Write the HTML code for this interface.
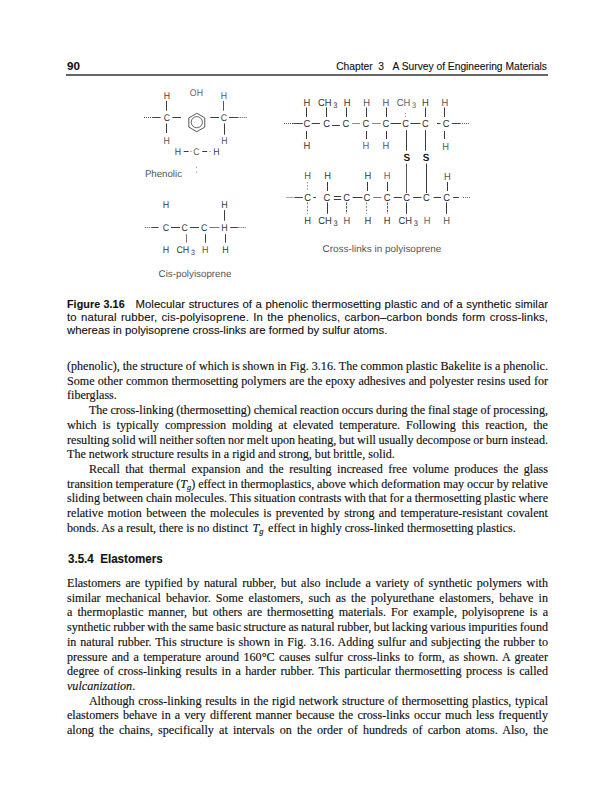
<!DOCTYPE html>
<html><head><meta charset="utf-8">
<style>
html,body{margin:0;padding:0;background:#fff;}
body{width:613px;height:800px;position:relative;overflow:hidden;}
.ln{position:absolute;white-space:nowrap;}
.bd{font-family:"Liberation Serif",serif;color:#111;-webkit-text-stroke:0.15px #111;}
.cp{font-family:"Liberation Sans",sans-serif;color:#111;-webkit-text-stroke:0.12px #111;}
sub{font-size:70%;vertical-align:-0.28em;line-height:0;font-style:italic;}
svg text{font-family:"Liberation Sans",sans-serif;text-rendering:geometricPrecision;}
</style></head><body>

<div class="ln cp" style="left:67px;top:58.7px;font-size:11.6px;font-weight:bold;">90</div>
<div class="ln cp" style="right:66px;top:60.5px;font-size:10.25px;">Chapter&nbsp;&nbsp;3&nbsp;&nbsp;&nbsp;A Survey of Engineering Materials</div>
<div style="position:absolute;left:66px;top:74px;width:482px;height:2px;background:#666;"></div>
<div class="ln cp" style="left:67.5px;top:551.8px;font-size:12.6px;line-height:14px;font-weight:bold;transform:scaleX(0.92);transform-origin:0 0;">3.5.4&nbsp;&nbsp;Elastomers</div>

<div class="ln cp" id="l0" style="left:67.00px;top:298.00px;font-size:11.35px;line-height:12.9px;letter-spacing:0.056px;word-spacing:0.289px;"><b style="font-size:10.75px">Figure 3.16</b><span style="display:inline-block;width:10.8px"></span>Molecular structures of a phenolic thermosetting plastic and of a synthetic similar</div>
<div class="ln cp" id="l1" style="left:67.00px;top:310.90px;font-size:11.35px;line-height:12.9px;letter-spacing:0.149px;word-spacing:0.904px;">to natural rubber, cis-polyisoprene. In the phenolics, carbon–carbon bonds form cross-links,</div>
<div class="ln cp" id="l2" style="left:67.00px;top:323.80px;font-size:11.35px;line-height:12.9px;">whereas in polyisoprene cross-links are formed by sulfur atoms.</div>
<div class="ln bd" id="l3" style="left:67.00px;top:359.00px;font-size:12.1px;line-height:14.7px;word-spacing:-0.006px;">(phenolic), the structure of which is shown in Fig. 3.16. The common plastic Bakelite is a phenolic.</div>
<div class="ln bd" id="l4" style="left:67.00px;top:373.70px;font-size:12.1px;line-height:14.7px;word-spacing:0.237px;">Some other common thermosetting polymers are the epoxy adhesives and polyester resins used for</div>
<div class="ln bd" id="l5" style="left:67.00px;top:388.40px;font-size:12.1px;line-height:14.7px;">fiberglass.</div>
<div class="ln bd" id="l6" style="left:88.90px;top:403.10px;font-size:12.1px;line-height:14.7px;word-spacing:-0.273px;">The cross-linking (thermosetting) chemical reaction occurs during the final stage of processing,</div>
<div class="ln bd" id="l7" style="left:67.00px;top:417.80px;font-size:12.1px;line-height:14.7px;word-spacing:2.966px;">which is typically compression molding at elevated temperature. Following this reaction, the</div>
<div class="ln bd" id="l8" style="left:67.00px;top:432.50px;font-size:12.1px;line-height:14.7px;word-spacing:-0.380px;">resulting solid will neither soften nor melt upon heating, but will usually decompose or burn instead.</div>
<div class="ln bd" id="l9" style="left:67.00px;top:447.20px;font-size:12.1px;line-height:14.7px;">The network structure results in a rigid and strong, but brittle, solid.</div>
<div class="ln bd" id="l10" style="left:88.90px;top:461.90px;font-size:12.1px;line-height:14.7px;word-spacing:2.493px;">Recall that thermal expansion and the resulting increased free volume produces the glass</div>
<div class="ln bd" id="l11" style="left:67.00px;top:476.60px;font-size:12.1px;line-height:14.7px;word-spacing:-0.132px;">transition temperature (<i>T</i><sub>g</sub>) effect in thermoplastics, above which deformation may occur by relative</div>
<div class="ln bd" id="l12" style="left:67.00px;top:491.30px;font-size:12.1px;line-height:14.7px;word-spacing:-0.186px;">sliding between chain molecules. This situation contrasts with that for a thermosetting plastic where</div>
<div class="ln bd" id="l13" style="left:67.00px;top:506.00px;font-size:12.1px;line-height:14.7px;word-spacing:1.321px;">relative motion between the molecules is prevented by strong and temperature-resistant covalent</div>
<div class="ln bd" id="l14" style="left:67.00px;top:520.70px;font-size:12.1px;line-height:14.7px;">bonds. As a result, there is no distinct <i style="margin-left:1.5px">T</i><sub style="margin-right:1.5px">g</sub> effect in highly cross-linked thermosetting plastics.</div>
<div class="ln bd" id="l15" style="left:67.00px;top:576.00px;font-size:12.1px;line-height:14.7px;word-spacing:1.646px;">Elastomers are typified by natural rubber, but also include a variety of synthetic polymers with</div>
<div class="ln bd" id="l16" style="left:67.00px;top:590.70px;font-size:12.1px;line-height:14.7px;word-spacing:2.145px;">similar mechanical behavior. Some elastomers, such as the polyurethane elastomers, behave in</div>
<div class="ln bd" id="l17" style="left:67.00px;top:605.40px;font-size:12.1px;line-height:14.7px;word-spacing:2.034px;">a thermoplastic manner, but others are thermosetting materials. For example, polyisoprene is a</div>
<div class="ln bd" id="l18" style="left:67.00px;top:620.10px;font-size:12.1px;line-height:14.7px;word-spacing:-0.464px;">synthetic rubber with the same basic structure as natural rubber, but lacking various impurities found</div>
<div class="ln bd" id="l19" style="left:67.00px;top:634.80px;font-size:12.1px;line-height:14.7px;word-spacing:0.812px;">in natural rubber. This structure is shown in Fig. 3.16. Adding sulfur and subjecting the rubber to</div>
<div class="ln bd" id="l20" style="left:67.00px;top:649.50px;font-size:12.1px;line-height:14.7px;word-spacing:1.386px;">pressure and a temperature around 160°C causes sulfur cross-links to form, as shown. A greater</div>
<div class="ln bd" id="l21" style="left:67.00px;top:664.20px;font-size:12.1px;line-height:14.7px;word-spacing:1.367px;">degree of cross-linking results in a harder rubber. This particular thermosetting process is called</div>
<div class="ln bd" id="l22" style="left:67.00px;top:678.90px;font-size:12.1px;line-height:14.7px;"><i>vulcanization</i>.</div>
<div class="ln bd" id="l23" style="left:88.90px;top:693.60px;font-size:12.1px;line-height:14.7px;word-spacing:0.699px;">Although cross-linking results in the rigid network structure of thermosetting plastics, typical</div>
<div class="ln bd" id="l24" style="left:67.00px;top:708.30px;font-size:12.1px;line-height:14.7px;word-spacing:1.137px;">elastomers behave in a very different manner because the cross-links occur much less frequently</div>
<div class="ln bd" id="l25" style="left:67.00px;top:723.00px;font-size:12.1px;line-height:14.7px;word-spacing:2.154px;">along the chains, specifically at intervals on the order of hundreds of carbon atoms. Also, the</div>
<svg id="fig" width="613" height="300" style="position:absolute;left:0;top:0;">
<text transform="translate(167.00,98.80) scale(0.9,1)" font-size="9.7" text-anchor="middle" fill="#444" font-weight="normal">H</text>
<text transform="translate(224.00,98.80) scale(0.9,1)" font-size="9.7" text-anchor="middle" fill="#555" font-weight="normal">H</text>
<text transform="translate(196.40,95.80) scale(0.9,1)" font-size="9.7" text-anchor="middle" fill="#666" font-weight="normal">OH</text>
<line x1="166.5" y1="100.9" x2="166.5" y2="110.7" stroke="#3a3a3a" stroke-width="1.0"/>
<line x1="223.5" y1="100.9" x2="223.5" y2="110.7" stroke="#555" stroke-width="1.0"/>
<text transform="translate(166.90,121.00) scale(0.9,1)" font-size="9.7" text-anchor="middle" fill="#444" font-weight="normal">C</text>
<text transform="translate(224.00,121.00) scale(0.9,1)" font-size="9.7" text-anchor="middle" fill="#444" font-weight="normal">C</text>
<line x1="144" y1="117.5" x2="152.35" y2="117.5" stroke="#555" stroke-width="1" stroke-dasharray="1,1"/>
<line x1="152.35" y1="117.5" x2="160.7" y2="117.5" stroke="#444" stroke-width="1"/>
<line x1="172.5" y1="117.5" x2="180.9" y2="117.5" stroke="#3a3a3a" stroke-width="1.0"/>
<line x1="210.3" y1="117.5" x2="219.0" y2="117.5" stroke="#3a3a3a" stroke-width="1.0"/>
<line x1="246.7" y1="117.5" x2="237.85" y2="117.5" stroke="#555" stroke-width="1" stroke-dasharray="1,1"/>
<line x1="237.85" y1="117.5" x2="229" y2="117.5" stroke="#444" stroke-width="1"/>
<polygon points="196.80,113.30 204.77,117.90 204.77,127.10 196.80,131.70 188.83,127.10 188.83,117.90" fill="none" stroke="#444" stroke-width="0.9"/>
<circle cx="196.8" cy="122.2" r="5.6" fill="none" stroke="#555" stroke-width="0.9"/>
<line x1="166.5" y1="123.5" x2="166.5" y2="133" stroke="#3a3a3a" stroke-width="1.0"/>
<line x1="224.5" y1="123.5" x2="224.5" y2="134.7" stroke="#3a3a3a" stroke-width="1.0"/>
<text transform="translate(166.60,143.60) scale(0.9,1)" font-size="9.7" text-anchor="middle" fill="#555" font-weight="normal">H</text>
<text transform="translate(224.40,143.60) scale(0.9,1)" font-size="9.7" text-anchor="middle" fill="#555" font-weight="normal">H</text>
<text transform="translate(177.90,155.20) scale(0.9,1)" font-size="9.7" text-anchor="middle" fill="#444" font-weight="normal">H</text>
<text transform="translate(196.50,155.20) scale(0.9,1)" font-size="9.7" text-anchor="middle" fill="#666" font-weight="normal">C</text>
<text transform="translate(216.30,155.20) scale(0.9,1)" font-size="9.7" text-anchor="middle" fill="#444" font-weight="normal">H</text>
<line x1="183.7" y1="151.5" x2="188.6" y2="151.5" stroke="#3a3a3a" stroke-width="1.0"/>
<line x1="202.3" y1="151.5" x2="207.2" y2="151.5" stroke="#3a3a3a" stroke-width="1.0"/>
<line x1="190.5" y1="151.5" x2="191.5" y2="151.5" stroke="#777" stroke-width="1.0"/>
<line x1="209.5" y1="151.5" x2="210.5" y2="151.5" stroke="#777" stroke-width="1.0"/>
<line x1="196.5" y1="166.5" x2="196.5" y2="168" stroke="#aaa" stroke-width="1.0"/>
<line x1="196.5" y1="171.5" x2="196.5" y2="173" stroke="#aaa" stroke-width="1.0"/>
<text x="144.90" y="176.80" font-size="9.8" text-anchor="start" fill="#555" font-weight="normal" textLength="37.1" lengthAdjust="spacingAndGlyphs">Phenolic</text>
<text transform="translate(166.00,208.00) scale(0.92,1)" font-size="9.7" text-anchor="middle" fill="#3a3a3a" font-weight="normal">H</text>
<text transform="translate(224.40,208.00) scale(0.92,1)" font-size="9.7" text-anchor="middle" fill="#3a3a3a" font-weight="normal">H</text>
<line x1="224.5" y1="210.2" x2="224.5" y2="220.7" stroke="#3a3a3a" stroke-width="1.0"/>
<text transform="translate(166.00,230.60) scale(0.92,1)" font-size="9.7" text-anchor="middle" fill="#3a3a3a" font-weight="normal">C</text>
<text transform="translate(184.70,230.60) scale(0.92,1)" font-size="9.7" text-anchor="middle" fill="#3a3a3a" font-weight="normal">C</text>
<text transform="translate(204.20,230.60) scale(0.92,1)" font-size="9.7" text-anchor="middle" fill="#3a3a3a" font-weight="normal">C</text>
<text transform="translate(224.40,230.60) scale(0.92,1)" font-size="9.7" text-anchor="middle" fill="#3a3a3a" font-weight="normal">H</text>
<line x1="144.8" y1="227.5" x2="151.7" y2="227.5" stroke="#555" stroke-width="1" stroke-dasharray="1,1"/>
<line x1="151.7" y1="227.5" x2="158.6" y2="227.5" stroke="#444" stroke-width="1"/>
<line x1="171" y1="227.5" x2="180" y2="227.5" stroke="#3a3a3a" stroke-width="1.0"/>
<line x1="190" y1="227.5" x2="199" y2="227.5" stroke="#444" stroke-width="1.0"/>
<line x1="209.5" y1="227.5" x2="219.5" y2="227.5" stroke="#777" stroke-width="1.0"/>
<line x1="245.6" y1="227.5" x2="237.89999999999998" y2="227.5" stroke="#555" stroke-width="1" stroke-dasharray="1,1"/>
<line x1="237.89999999999998" y1="227.5" x2="230.2" y2="227.5" stroke="#444" stroke-width="1"/>
<line x1="186.5" y1="234.2" x2="186.5" y2="242.7" stroke="#777" stroke-width="1.0"/>
<line x1="205.5" y1="234.2" x2="205.5" y2="242.7" stroke="#3a3a3a" stroke-width="1.0"/>
<line x1="225.5" y1="234.2" x2="225.5" y2="242.7" stroke="#3a3a3a" stroke-width="1.0"/>
<text transform="translate(166.00,252.90) scale(0.92,1)" font-size="9.7" text-anchor="middle" fill="#3a3a3a" font-weight="normal">H</text>
<text transform="translate(176.40,252.90) scale(0.92,1)" font-size="9.7" fill="#3a3a3a">CH<tspan font-size="7.76" dx="1.8" dy="2.3">3</tspan></text>
<text transform="translate(205.30,252.90) scale(0.92,1)" font-size="9.7" text-anchor="middle" fill="#555" font-weight="normal">H</text>
<text transform="translate(225.40,252.90) scale(0.92,1)" font-size="9.7" text-anchor="middle" fill="#3a3a3a" font-weight="normal">H</text>
<text x="158.60" y="277.00" font-size="9.8" text-anchor="start" fill="#555" font-weight="normal" textLength="72.8" lengthAdjust="spacingAndGlyphs">Cis-polyisoprene</text>
<text transform="translate(307.00,127.10) scale(0.92,1)" font-size="10.2" text-anchor="middle" fill="#3a3a3a" font-weight="normal">C</text>
<text transform="translate(326.60,127.10) scale(0.92,1)" font-size="10.2" text-anchor="middle" fill="#3a3a3a" font-weight="normal">C</text>
<text transform="translate(346.00,127.10) scale(0.92,1)" font-size="10.2" text-anchor="middle" fill="#3a3a3a" font-weight="normal">C</text>
<text transform="translate(365.90,127.10) scale(0.92,1)" font-size="10.2" text-anchor="middle" fill="#3a3a3a" font-weight="normal">C</text>
<text transform="translate(385.80,127.10) scale(0.92,1)" font-size="10.2" text-anchor="middle" fill="#3a3a3a" font-weight="normal">C</text>
<text transform="translate(405.70,127.10) scale(0.92,1)" font-size="10.2" text-anchor="middle" fill="#3a3a3a" font-weight="normal">C</text>
<text transform="translate(425.30,127.10) scale(0.92,1)" font-size="10.2" text-anchor="middle" fill="#3a3a3a" font-weight="normal">C</text>
<text transform="translate(446.20,127.10) scale(0.92,1)" font-size="10.2" text-anchor="middle" fill="#3a3a3a" font-weight="normal">C</text>
<text transform="translate(307.00,105.60) scale(0.92,1)" font-size="10.2" text-anchor="middle" fill="#3a3a3a" font-weight="normal">H</text>
<text transform="translate(318.00,105.60) scale(0.92,1)" font-size="10.2" fill="#3a3a3a">CH<tspan font-size="8.16" dx="1.8" dy="2.3">3</tspan></text>
<text transform="translate(347.10,105.60) scale(0.92,1)" font-size="10.2" text-anchor="middle" fill="#3a3a3a" font-weight="normal">H</text>
<text transform="translate(366.70,105.60) scale(0.92,1)" font-size="10.2" text-anchor="middle" fill="#555" font-weight="normal">H</text>
<text transform="translate(385.80,105.60) scale(0.92,1)" font-size="10.2" text-anchor="middle" fill="#555" font-weight="normal">H</text>
<text transform="translate(396.70,105.60) scale(0.92,1)" font-size="10.2" fill="#666">CH<tspan font-size="8.16" dx="1.8" dy="2.3">3</tspan></text>
<text transform="translate(425.30,105.60) scale(0.92,1)" font-size="10.2" text-anchor="middle" fill="#444" font-weight="normal">H</text>
<text transform="translate(444.80,105.60) scale(0.92,1)" font-size="10.2" text-anchor="middle" fill="#555" font-weight="normal">H</text>
<line x1="306.5" y1="107.5" x2="306.5" y2="117" stroke="#3a3a3a" stroke-width="1.0"/>
<line x1="326.5" y1="107.5" x2="326.5" y2="117" stroke="#3a3a3a" stroke-width="1.0"/>
<line x1="346.5" y1="107.5" x2="346.5" y2="117" stroke="#3a3a3a" stroke-width="1.0"/>
<line x1="366.5" y1="107.5" x2="366.5" y2="117" stroke="#3a3a3a" stroke-width="1.0"/>
<line x1="386.5" y1="107.5" x2="386.5" y2="117" stroke="#3a3a3a" stroke-width="1.0"/>
<line x1="425.5" y1="107.5" x2="425.5" y2="117" stroke="#3a3a3a" stroke-width="1.0"/>
<line x1="444.5" y1="107.5" x2="444.5" y2="117" stroke="#3a3a3a" stroke-width="1.0"/>
<line x1="405.5" y1="113" x2="405.5" y2="117" stroke="#999" stroke-width="1" stroke-dasharray="1,2"/>
<line x1="306.5" y1="131" x2="306.5" y2="139" stroke="#3a3a3a" stroke-width="1.0"/>
<line x1="366.5" y1="131" x2="366.5" y2="139" stroke="#3a3a3a" stroke-width="1.0"/>
<line x1="386.5" y1="131" x2="386.5" y2="139" stroke="#3a3a3a" stroke-width="1.0"/>
<line x1="444.5" y1="131" x2="444.5" y2="139" stroke="#3a3a3a" stroke-width="1.0"/>
<text transform="translate(307.00,148.70) scale(0.92,1)" font-size="10.2" text-anchor="middle" fill="#3a3a3a" font-weight="normal">H</text>
<text transform="translate(366.00,148.90) scale(0.92,1)" font-size="10.2" text-anchor="middle" fill="#666" font-weight="normal">H</text>
<text transform="translate(385.80,149.40) scale(0.92,1)" font-size="10.2" text-anchor="middle" fill="#555" font-weight="normal">H</text>
<text transform="translate(445.60,150.40) scale(0.92,1)" font-size="10.2" text-anchor="middle" fill="#555" font-weight="normal">H</text>
<line x1="284" y1="123.5" x2="293.4" y2="123.5" stroke="#555" stroke-width="1" stroke-dasharray="1,1"/>
<line x1="293.4" y1="123.5" x2="302.8" y2="123.5" stroke="#444" stroke-width="1"/>
<line x1="311.7" y1="123.5" x2="319.9" y2="123.5" stroke="#3a3a3a" stroke-width="1.0"/>
<line x1="332.1" y1="125.5" x2="339.9" y2="125.5" stroke="#3a3a3a" stroke-width="1.0"/>
<line x1="352.2" y1="123.5" x2="360" y2="123.5" stroke="#888" stroke-width="1.0"/>
<line x1="372.2" y1="123.5" x2="380.8" y2="123.5" stroke="#888" stroke-width="1.0"/>
<line x1="390.5" y1="123.5" x2="401" y2="123.5" stroke="#3a3a3a" stroke-width="1.0"/>
<line x1="410.5" y1="123.5" x2="420.5" y2="123.5" stroke="#3a3a3a" stroke-width="1.0"/>
<line x1="437" y1="123.5" x2="440.5" y2="123.5" stroke="#3a3a3a" stroke-width="1.0"/>
<line x1="468.9" y1="123.5" x2="460.35" y2="123.5" stroke="#555" stroke-width="1" stroke-dasharray="1,1"/>
<line x1="460.35" y1="123.5" x2="451.8" y2="123.5" stroke="#444" stroke-width="1"/>
<text transform="translate(406.90,160.60) scale(0.95,1)" font-size="10.4" text-anchor="middle" fill="#111" font-weight="bold">S</text>
<text transform="translate(426.00,160.60) scale(0.95,1)" font-size="10.4" text-anchor="middle" fill="#111" font-weight="bold">S</text>
<line x1="406.5" y1="130.2" x2="406.5" y2="150.6" stroke="#3a3a3a" stroke-width="1.0"/>
<line x1="425.5" y1="130.2" x2="425.5" y2="150.6" stroke="#3a3a3a" stroke-width="1.0"/>
<line x1="406.5" y1="163.6" x2="406.5" y2="193" stroke="#555" stroke-width="1.0"/>
<line x1="426.5" y1="163.6" x2="426.5" y2="193" stroke="#3a3a3a" stroke-width="1.0"/>
<text transform="translate(307.70,201.00) scale(0.92,1)" font-size="10.2" text-anchor="middle" fill="#3a3a3a" font-weight="normal">C</text>
<text transform="translate(327.00,201.00) scale(0.92,1)" font-size="10.2" text-anchor="middle" fill="#3a3a3a" font-weight="normal">C</text>
<text transform="translate(346.60,201.00) scale(0.92,1)" font-size="10.2" text-anchor="middle" fill="#3a3a3a" font-weight="normal">C</text>
<text transform="translate(366.80,201.00) scale(0.92,1)" font-size="10.2" text-anchor="middle" fill="#3a3a3a" font-weight="normal">C</text>
<text transform="translate(387.10,201.00) scale(0.92,1)" font-size="10.2" text-anchor="middle" fill="#3a3a3a" font-weight="normal">C</text>
<text transform="translate(406.70,201.00) scale(0.92,1)" font-size="10.2" text-anchor="middle" fill="#3a3a3a" font-weight="normal">C</text>
<text transform="translate(426.30,201.00) scale(0.92,1)" font-size="10.2" text-anchor="middle" fill="#3a3a3a" font-weight="normal">C</text>
<text transform="translate(446.70,201.00) scale(0.92,1)" font-size="10.2" text-anchor="middle" fill="#3a3a3a" font-weight="normal">C</text>
<text transform="translate(307.70,178.80) scale(0.92,1)" font-size="10.2" text-anchor="middle" fill="#555" font-weight="normal">H</text>
<text transform="translate(327.60,178.80) scale(0.92,1)" font-size="10.2" text-anchor="middle" fill="#3a3a3a" font-weight="normal">H</text>
<text transform="translate(367.80,178.80) scale(0.92,1)" font-size="10.2" text-anchor="middle" fill="#3a3a3a" font-weight="normal">H</text>
<text transform="translate(387.10,179.40) scale(0.92,1)" font-size="10.2" text-anchor="middle" fill="#666" font-weight="normal">H</text>
<text transform="translate(447.50,180.20) scale(0.92,1)" font-size="10.2" text-anchor="middle" fill="#555" font-weight="normal">H</text>
<line x1="307.5" y1="182" x2="307.5" y2="191" stroke="#999" stroke-width="1" stroke-dasharray="1.5,1.5"/>
<line x1="327.5" y1="182" x2="327.5" y2="191" stroke="#3a3a3a" stroke-width="1.0"/>
<line x1="367.5" y1="182" x2="367.5" y2="191" stroke="#3a3a3a" stroke-width="1.0"/>
<line x1="387.5" y1="182" x2="387.5" y2="191" stroke="#3a3a3a" stroke-width="1.0"/>
<line x1="447.5" y1="182" x2="447.5" y2="191" stroke="#3a3a3a" stroke-width="1.0"/>
<line x1="307.5" y1="202.4" x2="307.5" y2="213.8" stroke="#888" stroke-width="1" stroke-dasharray="2,1.5"/>
<line x1="366.5" y1="202.4" x2="366.5" y2="213.8" stroke="#888" stroke-width="1" stroke-dasharray="2,1.5"/>
<line x1="327.5" y1="202.4" x2="327.5" y2="213.8" stroke="#3a3a3a" stroke-width="1.0"/>
<line x1="406.5" y1="202.4" x2="406.5" y2="213.8" stroke="#3a3a3a" stroke-width="1.0"/>
<line x1="446.5" y1="202.4" x2="446.5" y2="213.8" stroke="#3a3a3a" stroke-width="1.0"/>
<line x1="346.5" y1="202.4" x2="346.5" y2="213.8" stroke="#555" stroke-width="1.0" stroke-dasharray="2.5,1.2"/>
<line x1="387.5" y1="202.4" x2="387.5" y2="213.8" stroke="#555" stroke-width="1.0" stroke-dasharray="2.5,1.2"/>
<text transform="translate(307.70,223.60) scale(0.92,1)" font-size="10.2" text-anchor="middle" fill="#3a3a3a" font-weight="normal">H</text>
<text transform="translate(318.30,223.60) scale(0.92,1)" font-size="10.2" fill="#3a3a3a">CH<tspan font-size="8.16" dx="1.8" dy="2.3">3</tspan></text>
<text transform="translate(346.90,223.60) scale(0.92,1)" font-size="10.2" text-anchor="middle" fill="#555" font-weight="normal">H</text>
<text transform="translate(367.80,223.60) scale(0.92,1)" font-size="10.2" text-anchor="middle" fill="#3a3a3a" font-weight="normal">H</text>
<text transform="translate(387.10,223.60) scale(0.92,1)" font-size="10.2" text-anchor="middle" fill="#3a3a3a" font-weight="normal">H</text>
<text transform="translate(398.50,223.60) scale(0.92,1)" font-size="10.2" fill="#3a3a3a">CH<tspan font-size="8.16" dx="1.8" dy="2.3">3</tspan></text>
<text transform="translate(427.10,223.60) scale(0.92,1)" font-size="10.2" text-anchor="middle" fill="#666" font-weight="normal">H</text>
<text transform="translate(446.70,223.60) scale(0.92,1)" font-size="10.2" text-anchor="middle" fill="#555" font-weight="normal">H</text>
<line x1="286.5" y1="197.5" x2="294.65" y2="197.5" stroke="#555" stroke-width="1" stroke-dasharray="1,1"/>
<line x1="294.65" y1="197.5" x2="302.8" y2="197.5" stroke="#444" stroke-width="1"/>
<line x1="313.4" y1="197.5" x2="315.9" y2="197.5" stroke="#3a3a3a" stroke-width="1.0"/>
<line x1="333.8" y1="196.5" x2="341.2" y2="196.5" stroke="#3a3a3a" stroke-width="1.0"/>
<line x1="333.8" y1="199.5" x2="341.2" y2="199.5" stroke="#3a3a3a" stroke-width="1.0"/>
<line x1="352.6" y1="197.5" x2="362.4" y2="197.5" stroke="#3a3a3a" stroke-width="1.0"/>
<line x1="373.3" y1="197.5" x2="381.4" y2="197.5" stroke="#777" stroke-width="1.0"/>
<line x1="393.7" y1="197.5" x2="401.8" y2="197.5" stroke="#3a3a3a" stroke-width="1.0"/>
<line x1="413.2" y1="197.5" x2="421.4" y2="197.5" stroke="#3a3a3a" stroke-width="1.0"/>
<line x1="433.6" y1="197.5" x2="441" y2="197.5" stroke="#3a3a3a" stroke-width="1.0"/>
<line x1="453.2" y1="197.5" x2="458.9" y2="197.5" stroke="#3a3a3a" stroke-width="1.0"/>
<line x1="463" y1="197.5" x2="470" y2="197.5" stroke="#777" stroke-width="1.0" stroke-dasharray="1,1"/>
<text x="322.60" y="251.70" font-size="9.8" text-anchor="start" fill="#555" font-weight="normal" textLength="118.7" lengthAdjust="spacingAndGlyphs">Cross-links in polyisoprene</text>
</svg>
</body></html>
